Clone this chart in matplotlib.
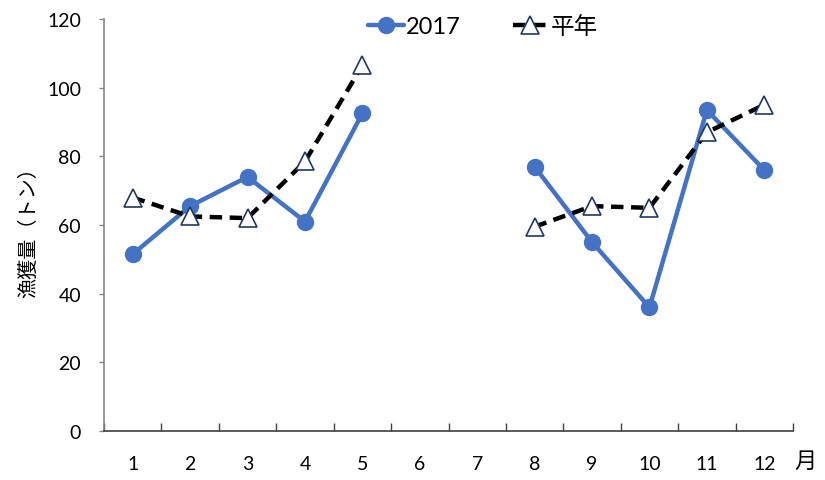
import matplotlib
matplotlib.use("Agg")
import matplotlib.pyplot as plt
import numpy as np

plt.rcParams['font.family'] = ['Lato', 'Noto Sans CJK JP', 'DejaVu Sans']

months = [1, 2, 3, 4, 5, 6, 7, 8, 9, 10, 11, 12]
month_labels = ['1', '2', '3', '4', '5', '6', '7', '8', '9', '10', '11', '12']
catch_2017 = [51.5, 65.5, 74.0, 61.0, 92.5, np.nan, np.nan, 77.0, 55.0, 36.0, 93.5, 76.0]
catch_avg = [68.0, 62.5, 62.0, 78.5, 106.5, np.nan, np.nan, 59.5, 65.5, 65.0, 87.0, 95.0]
yticks = [0, 20, 40, 60, 80, 100, 120]

fig = plt.figure(figsize=(8.25, 4.81), dpi=100)
ax = fig.add_axes([104/825, 1-432/481, (793-104)/825, (432-20)/481])

ax.plot(months, catch_2017, color='#4472C4', lw=3.2, marker='o', ms=11.5,
        mfc='#4472C4', mec='#4472C4', label='2017', zorder=3, solid_capstyle='round')
ax.plot(months, catch_avg, color='black', lw=3.2, linestyle=(0, (2.8, 1.7)),
        marker='^', ms=12.5, mfc='white', mec='#203864', mew=1.2,
        label='平年', zorder=4)

ax.set_xlim(0.5, 12.5)
ax.set_ylim(0, 120)
ax.set_yticks(yticks)
ax.set_yticklabels([str(v) for v in yticks])
ax.set_xticks(months)
ax.set_xticklabels(month_labels)
ax.set_xticks(np.arange(0.5, 13, 1), minor=True)

ax.tick_params(axis='x', which='major', length=0, pad=17, labelsize=14)
ax.tick_params(axis='x', which='minor', direction='in', length=5.5, width=1, color='#404040')
ax.tick_params(axis='y', which='major', direction='out', length=3.5, width=1,
               color='#868686', pad=13, labelsize=14)

for s in ['top', 'right']:
    ax.spines[s].set_visible(False)
ax.spines['left'].set_color('#868686')
ax.spines['left'].set_linewidth(1.2)
ax.spines['bottom'].set_color('#404040')
ax.spines['bottom'].set_linewidth(1.2)

ax.set_ylabel('漁獲量（トン）', fontsize=14.5)
ax.yaxis.set_label_coords(-(104-37)/689, (432-228)/412)

fig.text(794/825, 1-462/481, '月', ha='left', va='center', fontsize=16)

leg = fig.legend(loc='center', bbox_to_anchor=(483/825, 1-27/481), ncol=2,
                 frameon=False, fontsize=17, handlelength=1.5, handletextpad=0.1,
                 columnspacing=2.2, borderpad=0)

fig.savefig('out.png', dpi=100)
